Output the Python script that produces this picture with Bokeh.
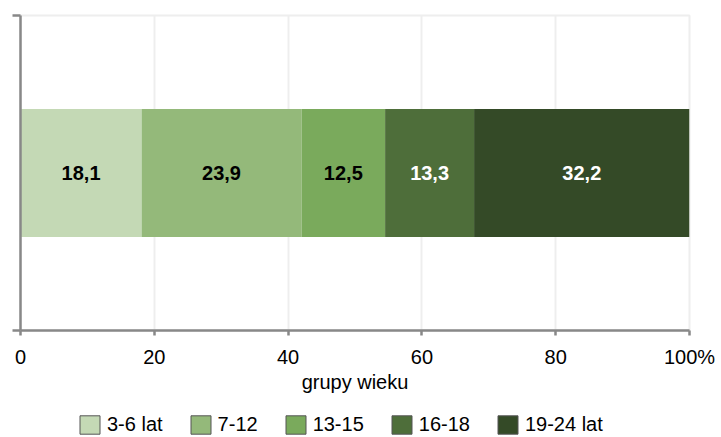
from bokeh.plotting import figure
from bokeh.layouts import column
from bokeh.models import ColumnDataSource, Legend, LegendItem, Range1d, FixedTicker, LabelSet
from bokeh.core.properties import value
from bokeh.embed import file_html
from bokeh.resources import INLINE

groups = ["3-6 lat", "7-12", "13-15", "16-18", "19-24 lat"]
values = [18.1, 23.9, 12.5, 13.3, 32.2]
labels = ["18,1", "23,9", "12,5", "13,3", "32,2"]
colors = ["#c4d9b5", "#94b97a", "#7aaa5c", "#4e6e3a", "#344a27"]
label_colors = ["black", "black", "black", "white", "white"]
xticks = [0, 20, 40, 60, 80, 100]
xtick_labels = ["0", "20", "40", "60", "80", "100%"]
axis_title = "grupy wieku"

FONT = "Liberation Sans"
W = 721

p = figure(width=W, height=405, output_backend="svg", toolbar_location=None,
           x_range=Range1d(0, 100), y_range=Range1d(0, 1),
           min_border_left=20, min_border_right=32, min_border_top=15, min_border_bottom=75)
p.background_fill_color = "white"
p.border_fill_color = "white"
p.outline_line_color = "#eeeeee"
p.outline_line_width = 2

lefts, rights = [], []
acc = 0
for v in values:
    lefts.append(acc)
    acc += v
    rights.append(acc)
src = ColumnDataSource(dict(left=lefts, right=rights, y=[0.5]*len(values), color=colors,
                            mid=[(a + b) / 2 for a, b in zip(lefts, rights)],
                            lab=labels, lc=label_colors))

p.hbar(y="y", left="left", right="right", height=0.406, fill_color="color",
       line_color=None, source=src)

ls = LabelSet(x="mid", y="y", text="lab", source=src, text_color="lc",
              text_align="center", text_baseline="middle", text_font=value(FONT),
              text_font_size="20px", text_font_style="bold")
p.add_layout(ls)

xa = p.xaxis[0]
xa.ticker = FixedTicker(ticks=xticks)
xa.major_label_overrides = {t: l for t, l in zip(xticks, xtick_labels)}
xa.axis_label = axis_title
xa.axis_label_text_font = FONT
xa.axis_label_text_font_size = "20px"
xa.axis_label_text_font_style = "normal"
xa.axis_label_text_color = "black"
xa.axis_label_standoff = 0
xa.major_label_text_font = FONT
xa.major_label_text_font_size = "20px"
xa.major_label_text_color = "black"
xa.major_label_standoff = 10
xa.axis_line_color = "#888888"
xa.axis_line_width = 2.5
xa.major_tick_line_color = "#888888"
xa.major_tick_line_width = 2.5
xa.major_tick_out = 5
xa.major_tick_in = 0
xa.minor_tick_line_color = None

ya = p.yaxis[0]
ya.ticker = FixedTicker(ticks=[0, 1])
ya.major_label_overrides = {0: "", 1: ""}
ya.axis_line_color = "#888888"
ya.axis_line_width = 2.5
ya.major_tick_line_color = "#888888"
ya.major_tick_line_width = 2.5
ya.major_tick_out = 8
ya.major_tick_in = 0
ya.minor_tick_line_color = None
ya.major_label_standoff = 0

p.xgrid.ticker = FixedTicker(ticks=xticks)
p.xgrid.grid_line_color = "#eeeeee"
p.xgrid.grid_line_width = 2
p.ygrid.grid_line_color = None

# legend strip (separate figure; renderers hidden, shown only as legend glyphs)
lf = figure(width=W, height=32, output_backend="svg", toolbar_location=None,
            x_axis_type=None, y_axis_type=None, x_range=Range1d(0, 100), y_range=Range1d(0, 1),
            min_border_left=0, min_border_right=0, min_border_top=0, min_border_bottom=0)
lf.outline_line_color = None
lf.background_fill_color = "white"
lf.border_fill_color = "white"
lf.xgrid.visible = False
lf.ygrid.visible = False

items = []
for i, (g, c) in enumerate(zip(groups, colors)):
    s = ColumnDataSource(dict(left=[lefts[i]], right=[rights[i]], y=[0.5]))
    r = lf.hbar(y="y", left="left", right="right", height=0.5, fill_color=c,
                line_color="#555555", line_width=1, source=s, visible=False)
    items.append(LegendItem(label=g, renderers=[r]))

legend = Legend(items=items, orientation="horizontal", location=(57, 1),
                label_text_font=FONT, label_text_font_size="20px", label_text_color="black",
                glyph_width=25, glyph_height=23, label_height=23, label_standoff=5, spacing=25,
                padding=0, margin=0, border_line_color=None, background_fill_alpha=0)
lf.add_layout(legend, "center")

layout = column(p, lf, spacing=0)
open("out.html", "w").write(file_html(layout, INLINE))
